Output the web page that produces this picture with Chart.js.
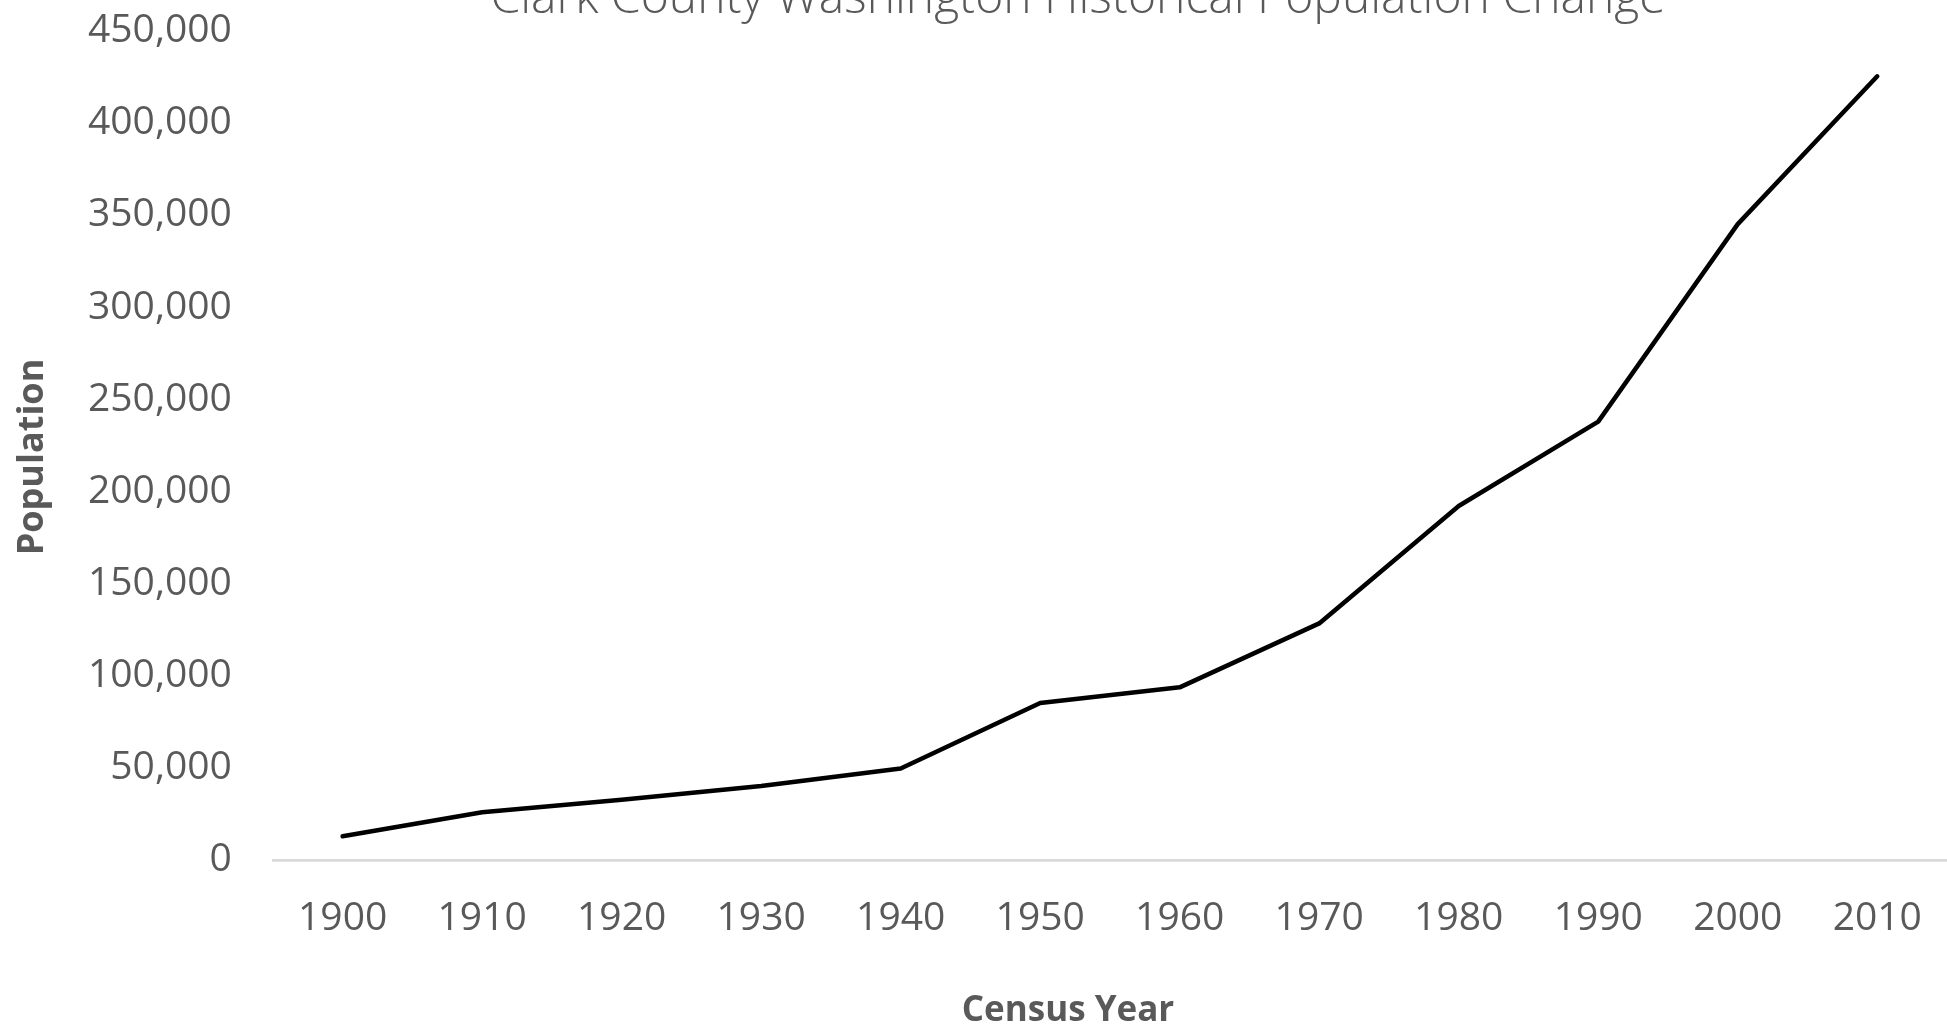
<!DOCTYPE html>
<html>
<head>
<meta charset="utf-8">
<title>Clark County Washington Historical Population Change</title>
<script src="https://cdn.jsdelivr.net/npm/chart.js@4/dist/chart.umd.min.js"></script>
<style>
  html, body { margin: 0; padding: 0; background: #ffffff; overflow: hidden; }
  #wrap { width: 1947px; height: 1029px; }
</style>
</head>
<body>
<div id="wrap"><canvas id="chart" width="1947" height="1029"></canvas></div>
<script>
// Census years and county population counts
const censusYears = ['1900', '1910', '1920', '1930', '1940', '1950', '1960', '1970', '1980', '1990', '2000', '2010'];
const population = [13000, 26000, 32800, 40300, 49800, 85300, 93800, 128500, 192200, 238000, 345200, 425400];
const populationTicks = [0, 50000, 100000, 150000, 200000, 250000, 300000, 350000, 400000, 450000];

const chartTitle = 'Clark County Washington Historical Population Change';
const xAxisTitle = 'Census Year';
const yAxisTitle = 'Population';

const textGray = '#595959';

// Draws the chart title and both axis titles
const titlesPlugin = {
  id: 'titles',
  afterDraw(chart) {
    const ctx = chart.ctx;
    ctx.save();
    ctx.fillStyle = textGray;

    ctx.font = '300 48px "Open Sans"';
    ctx.textAlign = 'center';
    ctx.textBaseline = 'alphabetic';
    ctx.fillText(chartTitle, 1078, 13);

    ctx.font = 'bold 35px "Open Sans"';
    ctx.fillText(xAxisTitle, 1068, 1021);

    ctx.font = 'bold 36px "Open Sans"';
    ctx.translate(33, 457);
    ctx.rotate(-Math.PI / 2);
    ctx.textBaseline = 'middle';
    ctx.fillText(yAxisTitle, 0, 0);
    ctx.restore();
  }
};

// Let the layout padding alone decide where the plot area sits
function noEdgePadding(scale) {
  scale.paddingTop = 0;
  scale.paddingBottom = 0;
  scale.paddingLeft = 0;
  scale.paddingRight = 0;
}

new Chart(document.getElementById('chart'), {
  type: 'line',
  data: {
    labels: censusYears,
    datasets: [{
      label: yAxisTitle,
      data: population,
      borderColor: '#000000',
      borderWidth: 4.5,
      borderCapStyle: 'round',
      borderJoinStyle: 'round',
      pointRadius: 0,
      pointHoverRadius: 0,
      tension: 0,
      fill: false
    }]
  },
  options: {
    responsive: false,
    devicePixelRatio: 1,
    animation: false,
    layout: { padding: { left: 47, right: 0, top: 31, bottom: 52 } },
    plugins: {
      legend: { display: false },
      title: { display: false },
      tooltip: { enabled: false }
    },
    scales: {
      x: {
        type: 'category',
        offset: true,
        afterFit: noEdgePadding,
        grid: { display: false, drawTicks: false },
        border: { display: true, color: '#d9d9d9', width: 2.7 },
        ticks: {
          color: textGray,
          font: { family: '"Open Sans"', size: 39 },
          padding: 35,
          maxRotation: 0,
          autoSkip: false
        }
      },
      y: {
        min: 0,
        max: 450000,
        afterFit: noEdgePadding,
        afterBuildTicks(scale) {
          scale.ticks = populationTicks.map(v => ({ value: v }));
        },
        grid: { display: false, drawTicks: false },
        border: { display: false },
        ticks: {
          color: textGray,
          font: { family: '"Open Sans"', size: 39 },
          padding: 41,
          callback: v => Number(v).toLocaleString('en-US')
        }
      }
    }
  },
  plugins: [titlesPlugin]
});
</script>
</body>
</html>
